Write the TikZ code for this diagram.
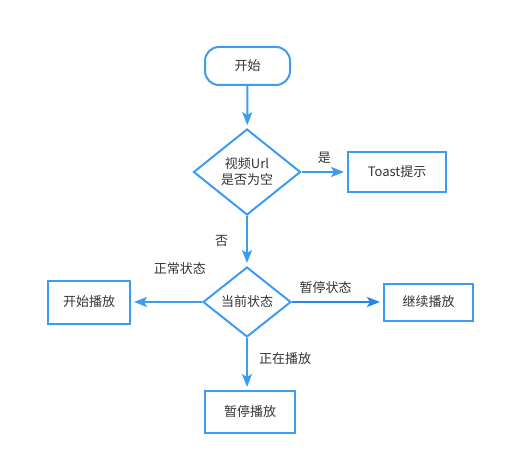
\documentclass[tikz,border=0pt]{standalone}
\usepackage{fontspec}
\setmainfont{Noto Sans CJK SC}
\usetikzlibrary{arrows.meta,shapes.geometric}
\definecolor{flowblue}{HTML}{3D9BF2}
\definecolor{flowdark}{HTML}{2585EA}
\definecolor{flowtext}{HTML}{333333}

\begin{document}
\begin{tikzpicture}[x=1pt,y=-1pt,
  font=\fontsize{13}{16}\selectfont,
  term/.style={draw=flowblue,line width=2pt,rounded corners=14pt,minimum width=85pt,minimum height=38pt,text=flowtext},
  act/.style={draw=flowblue,line width=2pt,inner sep=0pt,text=flowtext},
  cond/.style={diamond,draw=flowblue,line width=2pt,inner sep=0pt,align=center,text=flowtext},
  flow/.style={draw=flowblue,line width=2pt,-{Stealth[length=13pt,width=10pt,inset=3pt]},shorten >=3pt},
  lbl/.style={text=flowtext,inner sep=1pt}]

  \useasboundingbox (0,0) rectangle (505,465);

  \node[term] (start) at (247.5,66) {开始};
  \node[cond,minimum width=107pt,minimum height=86pt] (isnull) at (247,172) {视频Url\\是否为空};
  \node[act,minimum width=98pt,minimum height=40pt] (toast) at (397,172) {Toast提示};
  \node[cond,minimum width=88pt,minimum height=70pt] (state) at (247,302) {当前状态};
  \node[act,minimum width=82pt,minimum height=43pt] (play) at (89,302) {开始播放};
  \node[act,minimum width=89pt,minimum height=37pt] (resume) at (428.5,302) {继续播放};
  \node[act,minimum width=90pt,minimum height=42pt] (pause) at (250,412) {暂停播放};

  \draw[flow] (start) -- (isnull);
  \draw[flow] (isnull) -- node[lbl,above=6pt] (yes) {是} (toast);
  \draw[flow] (isnull) -- node[lbl,left=17pt] (no) {否} (state);
  \draw[flow] (state) -- node[lbl,pos=0.31,above=25pt] (normal) {正常状态} (play);
  \draw[flow,draw=flowdark] (state) -- node[lbl,pos=0.37,above=6pt] (paused) {暂停状态} (resume);
  \draw[flow] (state.south) -- node[lbl,pos=0.4,right=10pt] (playing) {正在播放} (state.south |- pause.north);
\end{tikzpicture}
\end{document}
